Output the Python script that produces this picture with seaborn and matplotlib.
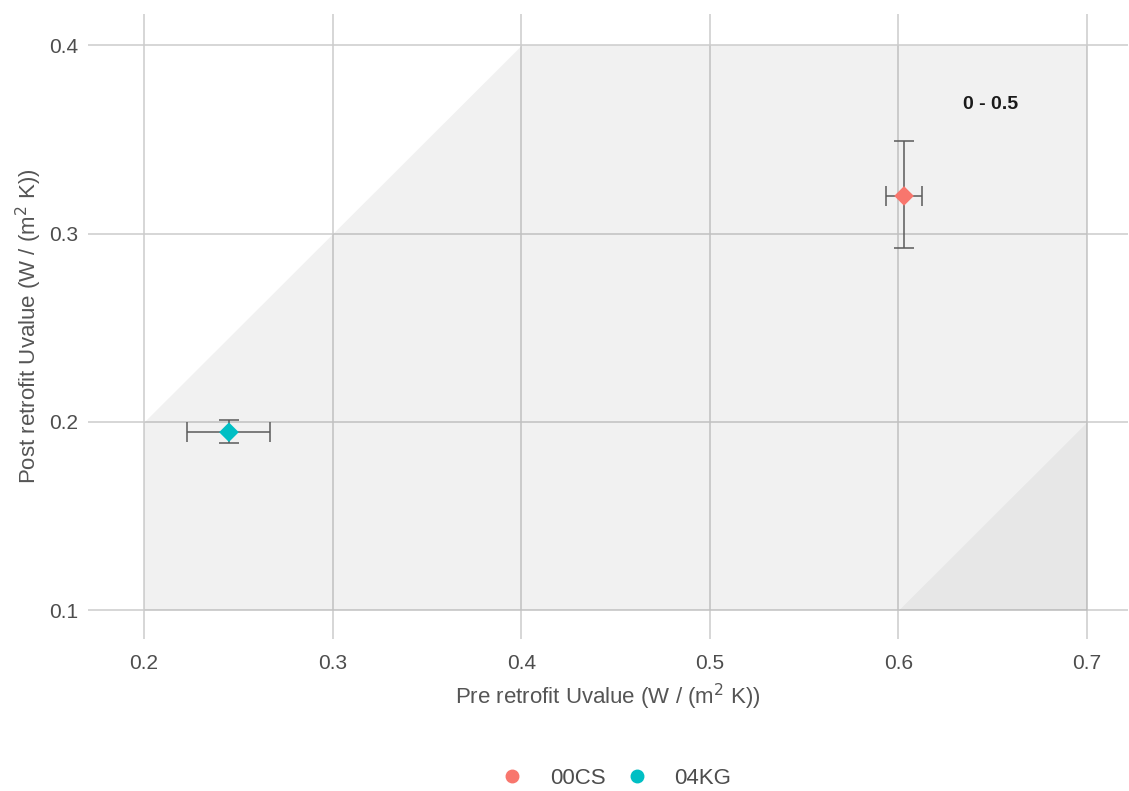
import numpy as np
import pandas as pd
import seaborn as sns
import matplotlib.pyplot as plt

# data
groups = ["00CS", "04KG"]
pre_u = [0.603, 0.245]
post_u = [0.320, 0.1945]
pre_lo = [0.5935, 0.2228]
pre_hi = [0.6125, 0.2668]
post_lo = [0.2922, 0.1886]
post_hi = [0.3490, 0.2009]
colors = ["#F8766D", "#00BFC4"]

# shaded bands: between y = x - offset lines, inside the box
box_x = [0.2, 0.7]
box_y = [0.1, 0.4]
offsets = [0.0, 0.5]
band_label = "0 - 0.5"

df = pd.DataFrame({"group": groups, "pre": pre_u, "post": post_u})

sns.set_theme(style="whitegrid")
plt.rcParams["font.family"] = ["Liberation Sans", "DejaVu Sans"]

fig = plt.figure(figsize=(11.29, 7.91), dpi=100)
ax = fig.add_axes([0.078, 0.192, 0.921, 0.790])

# shaded regions, alpha so the grid shows through like ggplot
xs = np.linspace(box_x[0], box_x[1], 501)
for off, a in zip(offsets, [0.055, 0.04]):
    upper = np.clip(xs - off, box_y[0], box_y[1])
    ax.fill_between(xs, box_y[0], upper, color="black", alpha=a, lw=0, zorder=2)

# error bars
for i in range(len(groups)):
    ax.errorbar(pre_u[i], post_u[i],
                xerr=[[pre_u[i] - pre_lo[i]], [pre_hi[i] - pre_u[i]]],
                yerr=[[post_u[i] - post_lo[i]], [post_hi[i] - post_u[i]]],
                fmt="none", ecolor="#5a5a5a", elinewidth=1.1, capsize=7,
                capthick=1.1, zorder=3)

sns.scatterplot(data=df, x="pre", y="post", hue="group", hue_order=groups,
                palette=colors, marker="D", s=100, linewidth=0, ax=ax,
                legend=False, zorder=4)

ax.text(0.649, 0.3687, band_label, fontsize=14, fontweight="bold",
        color="#1a1a1a", ha="center", va="center")

ax.set_xlim(0.1703, 0.7217)
ax.set_ylim(0.0846, 0.4165)
ax.set_xticks([0.2, 0.3, 0.4, 0.5, 0.6, 0.7])
ax.set_yticks([0.1, 0.2, 0.3, 0.4])
ax.set_xticklabels(["0.2", "0.3", "0.4", "0.5", "0.6", "0.7"])
ax.set_yticklabels(["0.1", "0.2", "0.3", "0.4"])
ax.grid(True, color="#cccccc", linewidth=1.1)
ax.set_axisbelow(True)
for s in ax.spines.values():
    s.set_visible(False)
ax.tick_params(axis="both", length=0, labelsize=15, colors="#4d4d4d")
ax.tick_params(axis="x", pad=11)
ax.tick_params(axis="y", pad=7)

unit = " (W / (m$^2$ K))"
ax.set_xlabel("Pre retrofit Uvalue" + unit, fontsize=16,
              color="#555555", labelpad=6)
ax.set_ylabel("Post retrofit Uvalue" + unit, fontsize=16,
              color="#555555", labelpad=4)

handles = [plt.Line2D([], [], marker="o", ls="", color=c, markersize=9)
           for c in colors]
fig.legend(handles, groups, loc="center", bbox_to_anchor=(0.541, 0.0164),
           ncol=2, frameon=False, fontsize=16, labelcolor="#4d4d4d",
           handletextpad=0.7, columnspacing=0.4)

fig.savefig("out.png", dpi=100)
